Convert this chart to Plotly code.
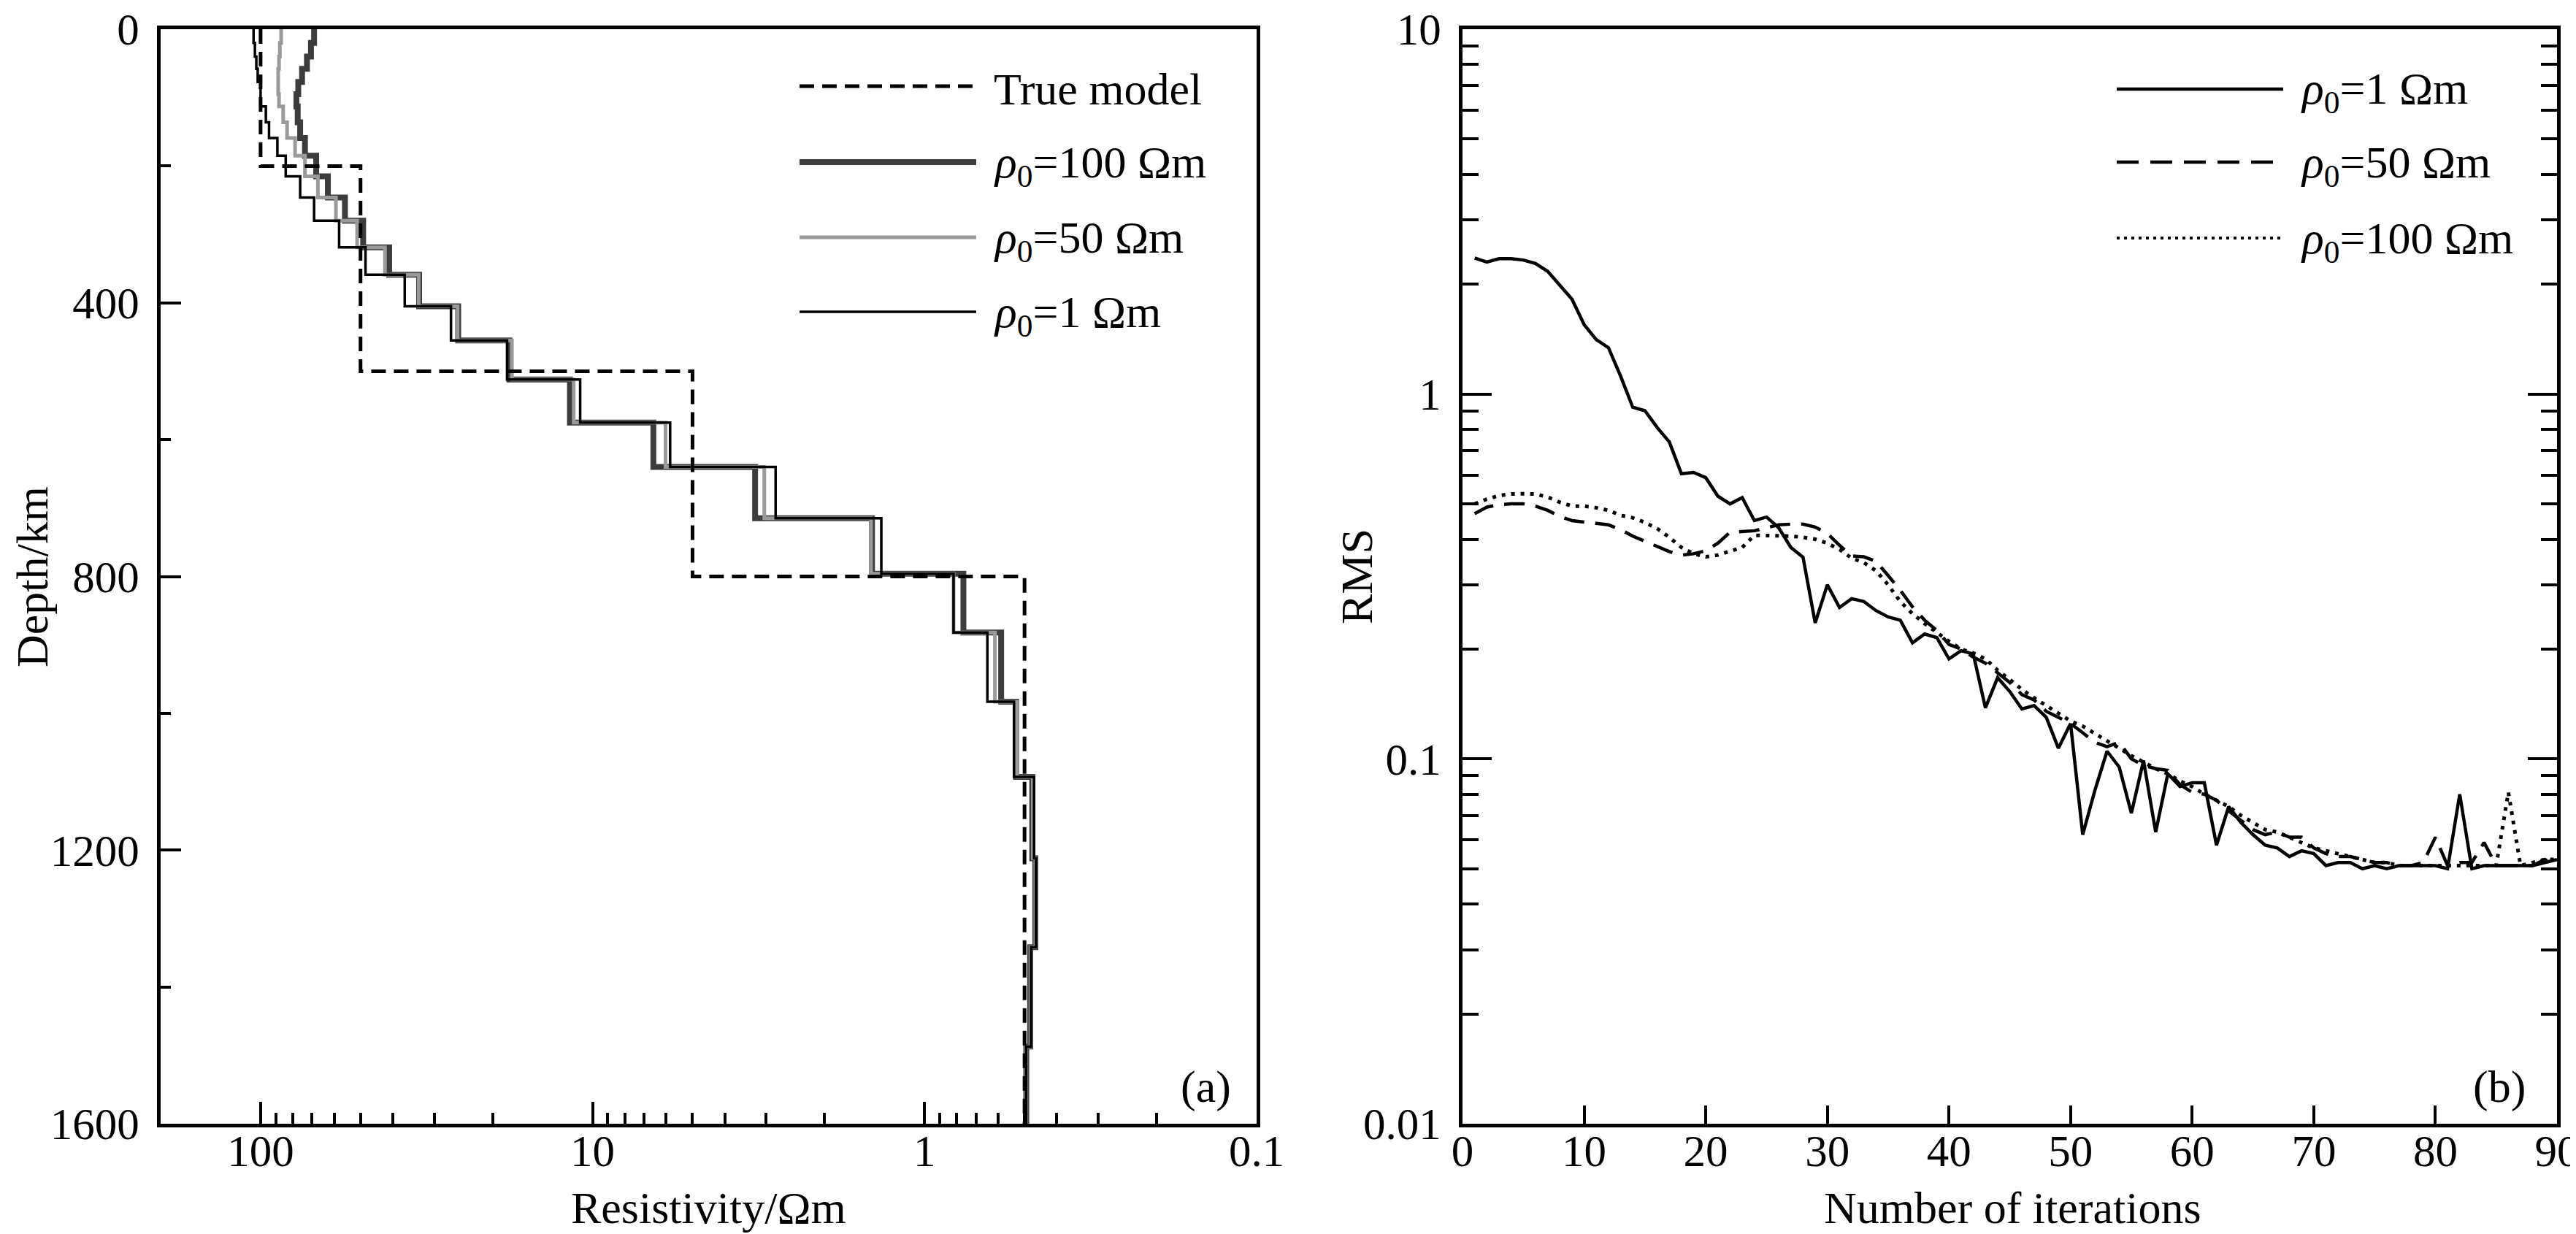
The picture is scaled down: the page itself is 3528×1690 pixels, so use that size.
import plotly.graph_objs as go

# ---- panel (a): layered resistivity models ----
depth_top = [0, 20, 40, 58, 77, 95, 113, 136, 159, 185, 215, 246, 280, 319, 359,
             405, 455, 512, 575, 640, 715, 796, 882, 983, 1093, 1212, 1342, 1487]
rho_init_1 = [105, 104, 103, 102, 100, 100, 96.4, 94.3, 89, 84, 76, 69, 58, 48.3, 36.8,
              26.7, 18.1, 10.9, 5.84, 2.81, 1.35, 0.818, 0.647, 0.538, 0.468, 0.462, 0.478, 0.494]
rho_init_50 = [86.7, 87.5, 88, 88.5, 88.5, 88, 85.5, 83.2, 78.7, 73.5, 67.2, 59.3, 51.2, 42.2, 33.4,
               25.5, 17.5, 11.4, 6.03, 3.04, 1.45, 0.818, 0.614, 0.527, 0.472, 0.464, 0.480, 0.494]
rho_init_100 = [69, 70.5, 72.5, 75, 77, 78, 77.3, 76, 73.5, 68, 62.7, 55.7, 49.1, 41, 33.3,
                25.4, 17.8, 11.7, 6.56, 3.24, 1.44, 0.764, 0.588, 0.53, 0.474, 0.464, 0.481, 0.494]
true_top = [0, 200, 500, 800]
true_rho = [100, 50, 5, 0.5]
max_depth = 1600

# ---- panel (b): RMS misfit vs iterations ----
iterations = list(range(1, 91))
rms_1 = [2.36, 2.30, 2.35, 2.35, 2.33, 2.28, 2.17, 1.99, 1.82, 1.55,
         1.41, 1.34, 1.12, 0.92, 0.90, 0.81, 0.74, 0.605, 0.61, 0.59,
         0.525, 0.50, 0.52, 0.45, 0.46, 0.43, 0.38, 0.357, 0.236, 0.30,
         0.26, 0.275, 0.27, 0.255, 0.245, 0.24, 0.208, 0.22, 0.215, 0.188,
         0.198, 0.194, 0.138, 0.167, 0.153, 0.137, 0.14, 0.13, 0.107, 0.125,
         0.062, 0.082, 0.105, 0.095, 0.071, 0.099, 0.063, 0.091, 0.084, 0.086,
         0.086, 0.058, 0.074, 0.067, 0.062, 0.058, 0.057, 0.054, 0.056, 0.055,
         0.051, 0.052, 0.052, 0.050, 0.051, 0.050, 0.051, 0.051, 0.051, 0.051,
         0.050, 0.080, 0.050, 0.051, 0.051, 0.051, 0.051, 0.051, 0.052, 0.053]
rms_50 = [0.47, 0.49, 0.497, 0.50, 0.50, 0.493, 0.48, 0.462, 0.45, 0.445,
          0.442, 0.438, 0.425, 0.408, 0.395, 0.382, 0.37, 0.362, 0.365, 0.372,
          0.39, 0.418, 0.42, 0.422, 0.43, 0.438, 0.44, 0.44, 0.432, 0.415,
          0.385, 0.36, 0.358, 0.348, 0.318, 0.29, 0.261, 0.24, 0.225, 0.206,
          0.20, 0.19, 0.183, 0.172, 0.162, 0.15, 0.145, 0.135, 0.13, 0.125,
          0.118, 0.111, 0.108, 0.111, 0.10, 0.096, 0.094, 0.093, 0.085, 0.081,
          0.080, 0.077, 0.072, 0.068, 0.064, 0.062, 0.063, 0.061, 0.061, 0.057,
          0.055, 0.054, 0.054, 0.053, 0.052, 0.052, 0.051, 0.051, 0.052, 0.061,
          0.051, 0.052, 0.052, 0.059, 0.051, 0.051, 0.051, 0.051, 0.053, 0.051]
rms_100 = [0.50, 0.515, 0.527, 0.532, 0.533, 0.532, 0.522, 0.505, 0.493, 0.493,
           0.488, 0.48, 0.465, 0.458, 0.445, 0.428, 0.405, 0.38, 0.365, 0.358,
           0.362, 0.37, 0.38, 0.41, 0.41, 0.41, 0.408, 0.405, 0.40, 0.39,
           0.375, 0.355, 0.345, 0.328, 0.30, 0.27, 0.25, 0.235, 0.222, 0.21,
           0.20, 0.195, 0.188, 0.175, 0.165, 0.155, 0.147, 0.14, 0.133, 0.127,
           0.123, 0.117, 0.112, 0.107, 0.102, 0.098, 0.094, 0.091, 0.087, 0.084,
           0.080, 0.077, 0.074, 0.070, 0.067, 0.064, 0.063, 0.061, 0.059, 0.057,
           0.056, 0.055, 0.054, 0.053, 0.052, 0.052, 0.051, 0.051, 0.051, 0.051,
           0.051, 0.051, 0.051, 0.051, 0.051, 0.081, 0.051, 0.052, 0.053, 0.053]

W, H = 3528, 1690
FONT = "Liberation Serif, Times New Roman, DejaVu Serif, serif"


def px(x):
    return x / W


def py(y):
    return 1 - y / H


fig = go.Figure()


def step_trace(rho, top, color, width, dash="solid"):
    return go.Scatter(x=rho + [rho[-1]], y=top + [max_depth], mode="lines",
                      line=dict(color=color, width=width, dash=dash, shape="vh"),
                      xaxis="x", yaxis="y", showlegend=False)


fig.add_trace(step_trace(rho_init_100, depth_top, "#3c3c3c", 8))
fig.add_trace(step_trace(rho_init_50, depth_top, "#9a9a9a", 5))
fig.add_trace(step_trace(rho_init_1, depth_top, "black", 3.5))
fig.add_trace(step_trace(true_rho, true_top, "black", 5, "20px,11px"))

fig.add_trace(go.Scatter(x=iterations, y=rms_50, mode="lines", xaxis="x2", yaxis="y2",
                         line=dict(color="black", width=4.5, dash="28px,15px"), showlegend=False))
fig.add_trace(go.Scatter(x=iterations, y=rms_100, mode="lines", xaxis="x2", yaxis="y2",
                         line=dict(color="black", width=5, dash="5px,8px"), showlegend=False))
fig.add_trace(go.Scatter(x=iterations, y=rms_1, mode="lines", xaxis="x2", yaxis="y2",
                         line=dict(color="black", width=4.5), showlegend=False))

tick_font = dict(family=FONT, size=61, color="black")
title_font = dict(family=FONT, size=62, color="black")
text_font = dict(family=FONT, size=62, color="black")
yd = [py(1531), py(32)]

minor_res = [k * d for d in [0.1, 1, 10, 100] for k in range(2, 10) if k * d < 200]
minor_rms = [k * d for d in [0.01, 0.1, 1] for k in range(2, 10)]

axis_common = dict(showline=True, linecolor="black", linewidth=5, showgrid=False,
                   zeroline=False, ticks="inside", tickcolor="black", tickwidth=4,
                   tickfont=tick_font, ticklabeloverflow="allow", automargin=False)

fig.update_layout(
    width=W, height=H, autosize=False,
    margin=dict(l=0, r=0, t=0, b=0),
    paper_bgcolor="white", plot_bgcolor="white",
    font=dict(family=FONT, color="black"),
    xaxis=dict(axis_common, domain=[px(212), px(1713)], anchor="y", type="log",
               range=[2.30103, -1], tickvals=[100, 10, 1, 0.1], ticktext=["100", "10", "1", "0.1"],
               ticklen=30, mirror=True, ticklabelstandoff=-20,
               minor=dict(tickvals=minor_res, ticks="inside", ticklen=15, tickwidth=4, tickcolor="black")),
    yaxis=dict(axis_common, domain=yd, anchor="x", range=[max_depth, 0],
               tickvals=[0, 400, 800, 1200, 1600], ticklen=28, mirror=True, ticklabelstandoff=12,
               minor=dict(dtick=200, ticks="inside", ticklen=14, tickwidth=4, tickcolor="black")),
    xaxis2=dict(axis_common, domain=[px(1995), px(3494)], anchor="y2", range=[0, 90],
                dtick=10, ticklen=25, mirror=True, ticklabelstandoff=-20),
    yaxis2=dict(axis_common, domain=yd, anchor="x2", type="log", range=[-2, 1],
                tickvals=[0.01, 0.1, 1, 10], ticktext=["0.01", "0.1", "1", "10"],
                ticklen=40, mirror="ticks", ticklabelstandoff=12,
                minor=dict(tickvals=minor_rms, ticks="inside", ticklen=22, tickwidth=4, tickcolor="black")),
)

# axis titles placed as annotations
axis_titles = [("Resistivity/Ωm", 962, 1646, 0),
               ("Number of iterations", 2748, 1646, 0),
               ("Depth/km", 36, 782, -90),
               ("RMS", 1850, 782, -90)]
annots = [dict(text=t, xref="paper", yref="paper", x=px(x), y=py(y), textangle=a,
               xanchor="center", yanchor="middle", showarrow=False, font=title_font)
          for t, x, y, a in axis_titles]

# hand-drawn legends (long line samples as in the original figure)
legend_a = [("True model", "black", 5, "20px,11px"),
            ("<i>ρ</i><sub>0</sub>=100 Ωm", "#3c3c3c", 8, "solid"),
            ("<i>ρ</i><sub>0</sub>=50 Ωm", "#9a9a9a", 5, "solid"),
            ("<i>ρ</i><sub>0</sub>=1 Ωm", "black", 3.5, "solid")]
legend_b = [("<i>ρ</i><sub>0</sub>=1 Ωm", "black", 4.5, "solid"),
            ("<i>ρ</i><sub>0</sub>=50 Ωm", "black", 4.5, "30px,16px"),
            ("<i>ρ</i><sub>0</sub>=100 Ωm", "black", 4, "4px,6px")]

shapes = []
for items, x0, x1, xt, rows in [(legend_a, 1087, 1329, 1351, [110, 214, 317, 419]),
                                (legend_b, 2891, 3119, 3141, [114, 214, 318])]:
    for (label, color, width, dash), yr in zip(items, rows):
        shapes.append(dict(type="line", xref="paper", yref="paper",
                           x0=px(x0), x1=px(x1), y0=py(yr), y1=py(yr),
                           line=dict(color=color, width=width, dash=dash)))
        annots.append(dict(text=label, xref="paper", yref="paper", x=px(xt), y=py(yr + 4),
                           xanchor="left", yanchor="middle", showarrow=False, font=text_font))

annots.append(dict(text="(a)", xref="paper", yref="paper", x=px(1643), y=py(1480),
                   xanchor="center", yanchor="middle", showarrow=False, font=text_font))
annots.append(dict(text="(b)", xref="paper", yref="paper", x=px(3415), y=py(1480),
                   xanchor="center", yanchor="middle", showarrow=False, font=text_font))

fig.update_layout(shapes=shapes, annotations=annots)

fig.write_html("out.html")
